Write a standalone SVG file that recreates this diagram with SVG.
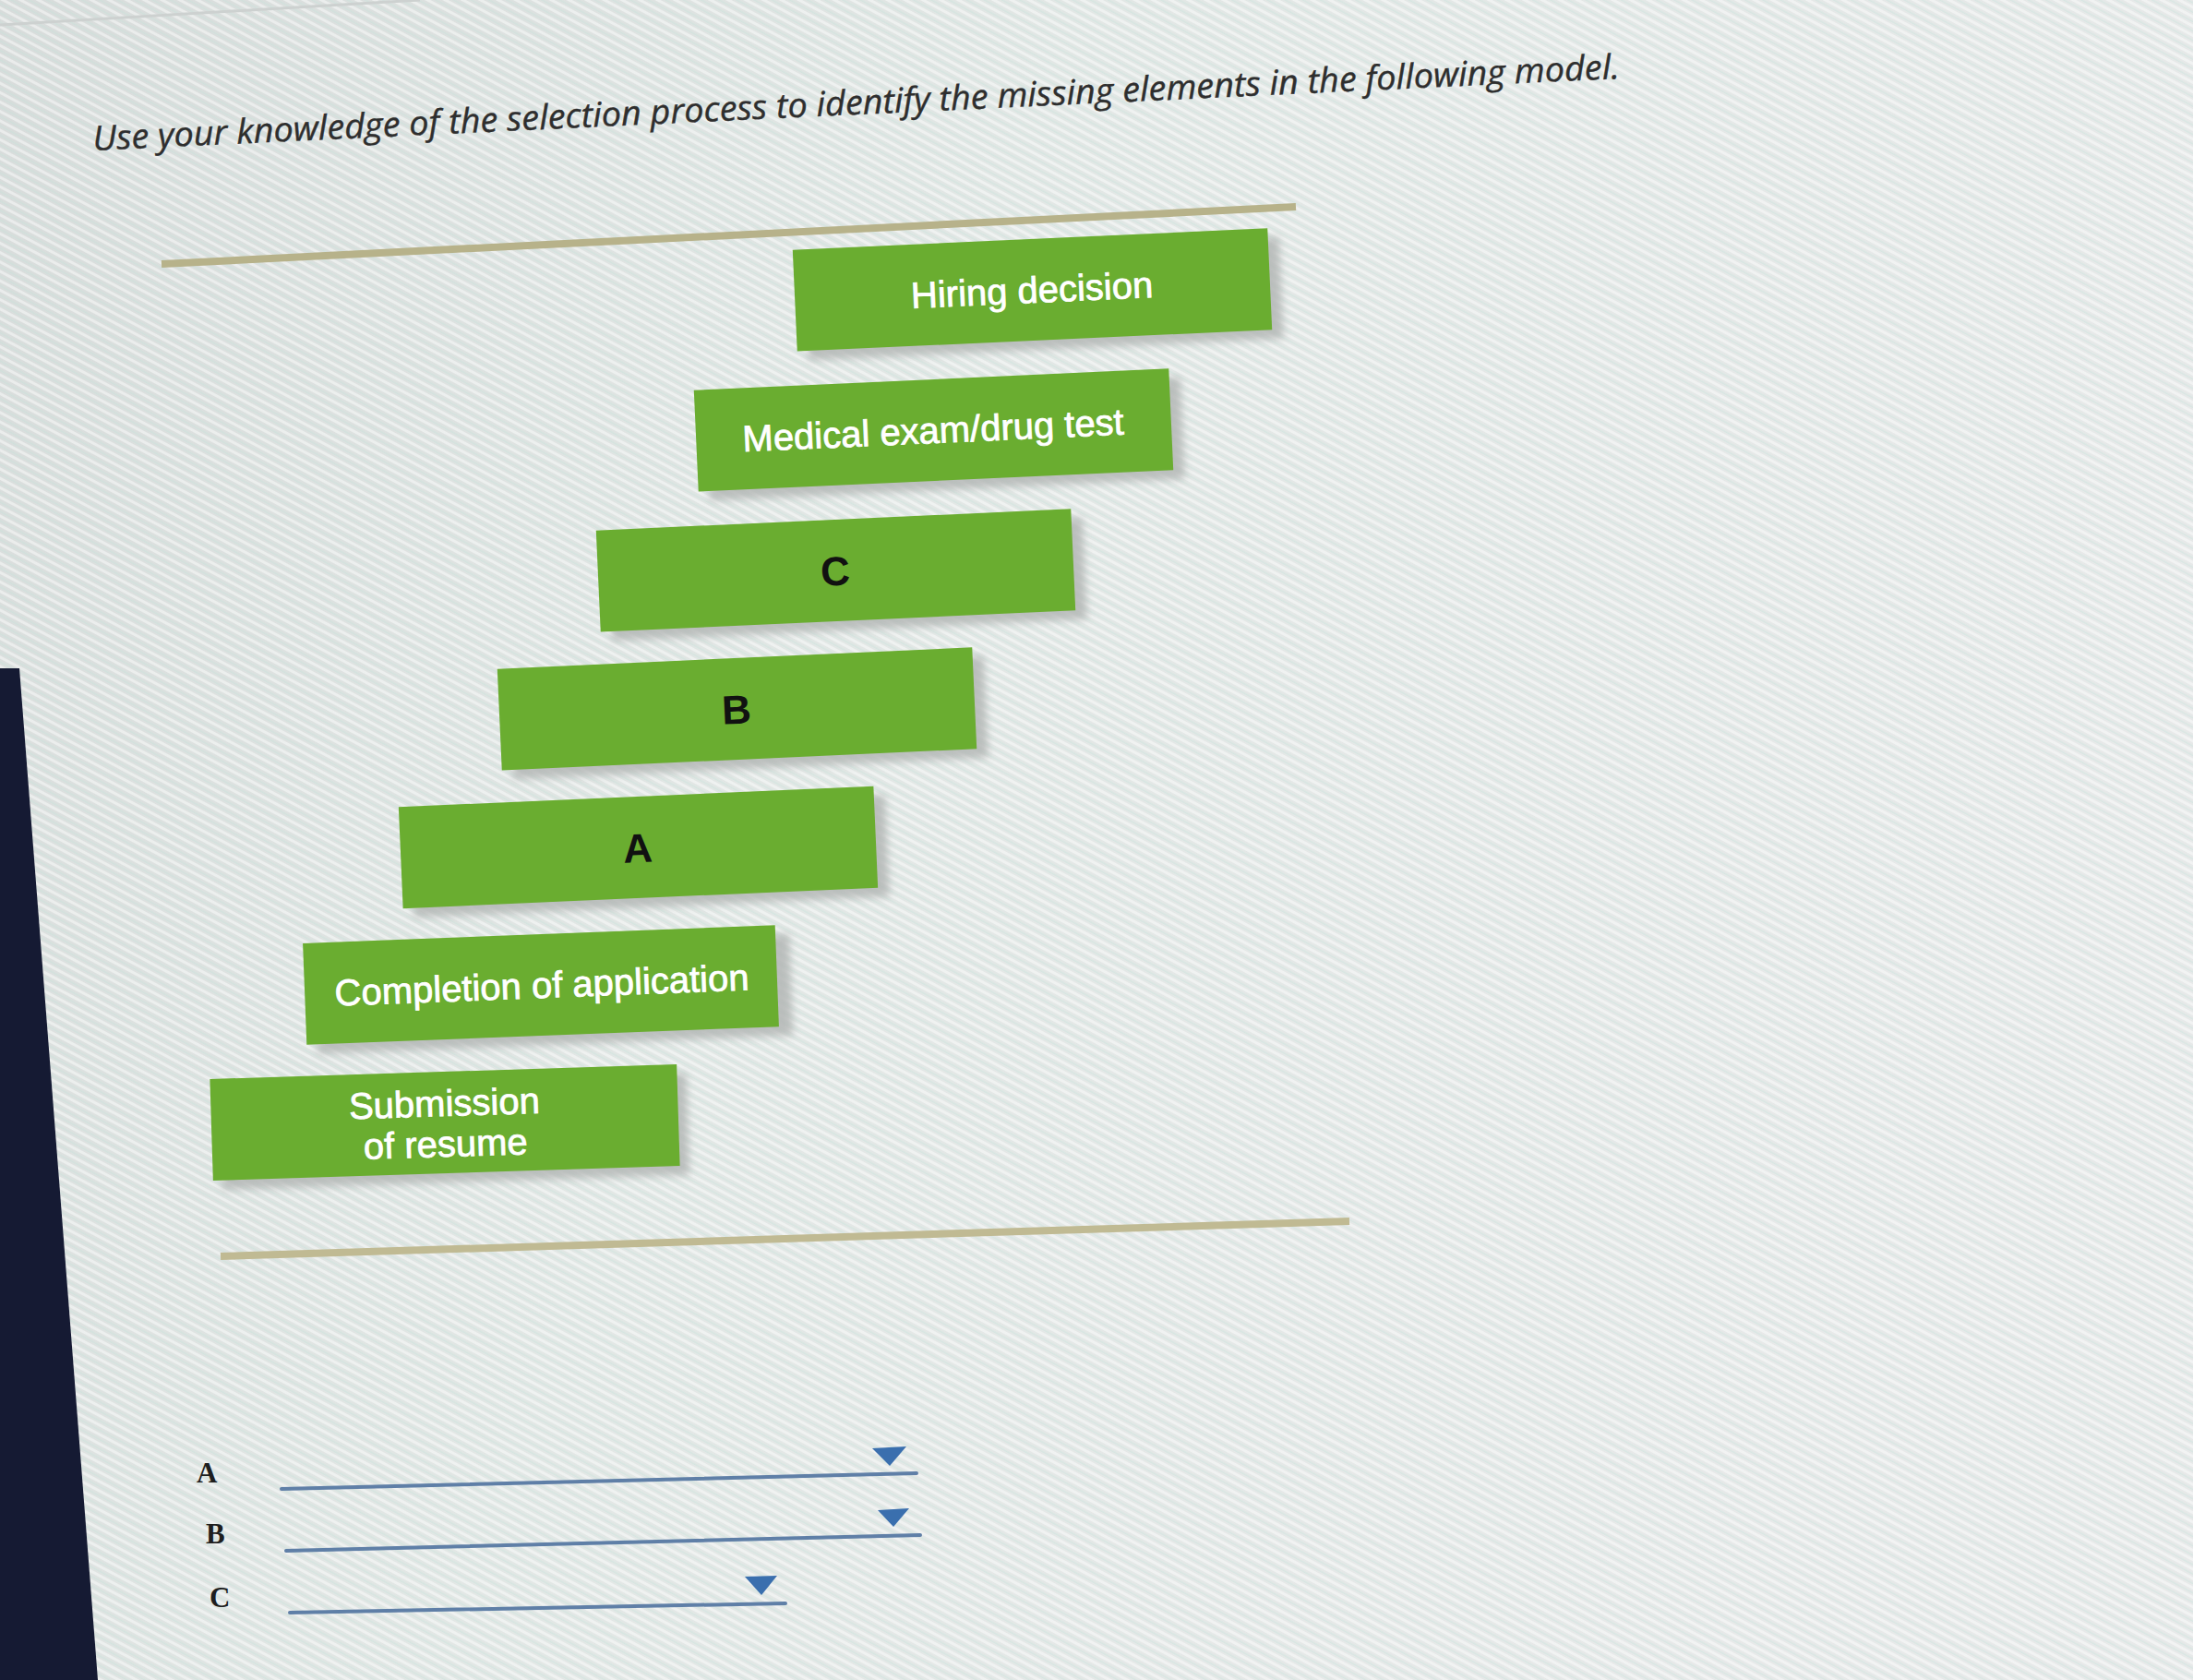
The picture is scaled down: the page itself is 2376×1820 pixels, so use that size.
<svg xmlns="http://www.w3.org/2000/svg" width="2376" height="1820" viewBox="0 0 2376 1820">
  <defs>
    <linearGradient id="bg" x1="0" y1="0" x2="1" y2="0.3">
      <stop offset="0" stop-color="#d8dcdb"/>
      <stop offset="0.45" stop-color="#e2e7e5"/>
      <stop offset="1" stop-color="#e7e9e9"/>
    </linearGradient>
    <pattern id="stripes" patternUnits="userSpaceOnUse" width="9" height="9" patternTransform="rotate(-62)">
      <rect x="0" y="0" width="3" height="9" fill="#ffffff" opacity="0.45"/>
      <rect x="5" y="0" width="1.5" height="9" fill="#bfe3d8" opacity="0.35"/>
    </pattern>
    <filter id="blur" x="-10%" y="-30%" width="120%" height="160%">
      <feGaussianBlur stdDeviation="4"/>
    </filter>
    <style>
      .box { fill: #6aad30; }
      .shadow { fill: #b4b7b6; opacity: 0.85; }
      .wt { font-family: "Liberation Sans", Arial, sans-serif; font-size: 40px; fill: #ffffff; text-anchor: middle; stroke: #ffffff; stroke-width: 0.8; }
      .lt { font-family: "Liberation Sans", Arial, sans-serif; font-size: 44px; font-weight: bold; fill: #111111; text-anchor: middle; }
      .lbl { font-family: "Liberation Serif", "Times New Roman", serif; font-size: 31px; font-weight: bold; fill: #1e1e1e; }
      .ans { stroke: #5f7fa7; stroke-width: 4; stroke-linecap: round; }
      .tri { fill: #3a6fae; }
      .rule { stroke-width: 8; stroke-linecap: butt; }
    </style>
  </defs>

  <!-- background -->
  <rect x="0" y="0" width="2376" height="1820" fill="url(#bg)"/>
  <rect x="0" y="0" width="2376" height="1820" fill="url(#stripes)"/>
  <line x1="0" y1="27" x2="455" y2="0" stroke="#cdd1d0" stroke-width="3"/>
  <polygon points="0,724 21,724 106,1820 0,1820" fill="#151a33"/>

  <!-- title -->
  <text x="101" y="163" transform="rotate(-2.7 101 163)" textLength="1656" lengthAdjust="spacingAndGlyphs" font-family="'Open Sans', 'Liberation Sans', sans-serif" font-style="italic" font-size="37" fill="#2e2e2e" stroke="#2e2e2e" stroke-width="0.4">Use your knowledge of the selection process to identify the missing elements in the following model.</text>

  <!-- rules -->
  <g id="connectors">
    <line class="rule" x1="175" y1="286" x2="1404" y2="224" stroke="#b7b28a"/>
    <line class="rule" x1="239" y1="1361" x2="1462" y2="1323" stroke="#c0ba93"/>
  </g>

  <!-- boxes -->
  <g id="hiring-decision" transform="translate(1118 314) rotate(-2.6)">
    <rect class="shadow" x="-245" y="-45" width="515" height="110" filter="url(#blur)"/>
    <rect class="box" x="-257" y="-55" width="515" height="110"/>
    <text class="wt" x="0" y="14">Hiring decision</text>
  </g>
  <g id="medical-exam" transform="translate(1011 466) rotate(-2.6)">
    <rect class="shadow" x="-245" y="-45" width="515" height="110" filter="url(#blur)"/>
    <rect class="box" x="-257" y="-55" width="515" height="110"/>
    <text class="wt" x="0" y="14">Medical exam/drug test</text>
  </g>
  <g id="box-c" transform="translate(905 618) rotate(-2.6)">
    <rect class="shadow" x="-245" y="-45" width="515" height="110" filter="url(#blur)"/>
    <rect class="box" x="-257" y="-55" width="515" height="110"/>
    <text class="lt" x="0" y="16">C</text>
  </g>
  <g id="box-b" transform="translate(798 768) rotate(-2.6)">
    <rect class="shadow" x="-245" y="-45" width="515" height="110" filter="url(#blur)"/>
    <rect class="box" x="-257" y="-55" width="515" height="110"/>
    <text class="lt" x="0" y="16">B</text>
  </g>
  <g id="box-a" transform="translate(691 918) rotate(-2.5)">
    <rect class="shadow" x="-245" y="-45" width="515" height="110" filter="url(#blur)"/>
    <rect class="box" x="-257" y="-55" width="515" height="110"/>
    <text class="lt" x="0" y="16">A</text>
  </g>
  <g id="completion-of-application" transform="translate(587 1067) rotate(-2.2)">
    <rect class="shadow" x="-245" y="-45" width="515" height="110" filter="url(#blur)"/>
    <rect class="box" x="-257" y="-55" width="512" height="110"/>
    <text class="wt" x="0" y="14">Completion of application</text>
  </g>
  <g id="submission-of-resume" transform="translate(482 1216) rotate(-1.8)">
    <rect class="shadow" x="-243" y="-45" width="506" height="110" filter="url(#blur)"/>
    <rect class="box" x="-253" y="-55" width="506" height="110"/>
    <text class="wt" x="0" y="-7">Submission</text>
    <text class="wt" x="0" y="37">of resume</text>
  </g>

  <!-- answer fields -->
  <g id="answer-a">
    <text class="lbl" x="213" y="1606">A</text>
    <line class="ans" x1="305" y1="1613" x2="993" y2="1596"/>
    <polygon class="tri" points="945,1569 982,1567 964,1588"/>
  </g>
  <g id="answer-b">
    <text class="lbl" x="223" y="1672">B</text>
    <line class="ans" x1="310" y1="1680" x2="997" y2="1663"/>
    <polygon class="tri" points="951,1636 985,1634 968,1654"/>
  </g>
  <g id="answer-c">
    <text class="lbl" x="227" y="1741">C</text>
    <line class="ans" x1="314" y1="1747" x2="851" y2="1737"/>
    <polygon class="tri" points="807,1708 842,1707 825,1728"/>
  </g>
</svg>
